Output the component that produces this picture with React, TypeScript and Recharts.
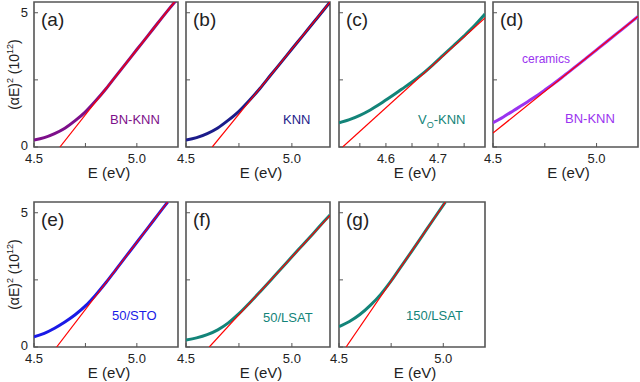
import React from "react";
import { LineChart, Line, XAxis, YAxis, ReferenceArea, Label } from "recharts";

const FONT = "Arial, 'Liberation Sans', Helvetica, sans-serif";
const Y_MAX = 5.4;
const Y_TICKS = [0, 2.5, 5];

// (a) BN-KNN
const energyA = [4.5, 4.55, 4.6, 4.65, 4.7, 4.75, 4.8, 4.85, 4.9, 4.95, 5.0, 5.05, 5.1, 5.15, 5.19];
const absA = [0.26, 0.35, 0.5, 0.7, 0.98, 1.31, 1.72, 2.17, 2.66, 3.14, 3.63, 4.11, 4.6, 5.08, 5.45];
const fitEA = [4.626, 5.183];
const fitYA = [0, 5.4];

// (b) KNN
const energyB = [4.5, 4.55, 4.6, 4.65, 4.7, 4.75, 4.8, 4.85, 4.9, 4.95, 5.0, 5.05, 5.1, 5.15, 5.18];
const absB = [0.26, 0.35, 0.5, 0.71, 1.0, 1.33, 1.74, 2.19, 2.68, 3.16, 3.65, 4.13, 4.62, 5.1, 5.4];
const fitEB = [4.624, 5.18];
const fitYB = [0, 5.4];

// (c) VO-KNN
const energyC = [4.51, 4.53, 4.55, 4.57, 4.59, 4.61, 4.63, 4.65, 4.67, 4.69, 4.71, 4.73, 4.75, 4.77, 4.79];
const absC = [0.9, 1.02, 1.18, 1.38, 1.62, 1.88, 2.15, 2.42, 2.72, 3.06, 3.42, 3.78, 4.14, 4.52, 4.95];
const fitEC = [4.517, 4.79];
const fitYC = [0, 4.81];

// (d) BN-KNN ceramics
const energyD = [4.5, 4.55, 4.6, 4.65, 4.7, 4.75, 4.8, 4.85, 4.9, 4.95, 5.0, 5.05, 5.1, 5.15, 5.2];
const absD = [0.9, 1.12, 1.36, 1.6, 1.85, 2.12, 2.4, 2.7, 3.0, 3.31, 3.62, 3.93, 4.24, 4.55, 4.86];
const fitED = [4.5, 5.2];
const fitYD = [0.52, 4.86];

// (e) 50/STO
const energyE = [4.5, 4.55, 4.6, 4.65, 4.7, 4.75, 4.8, 4.85, 4.9, 4.95, 5.0, 5.05, 5.1, 5.15];
const absE = [0.38, 0.51, 0.7, 0.93, 1.2, 1.53, 1.94, 2.4, 2.9, 3.4, 3.9, 4.4, 4.9, 5.4];
const fitEE = [4.61, 5.15];
const fitYE = [0, 5.4];

// (f) 50/LSAT
const energyF = [4.5, 4.55, 4.6, 4.65, 4.7, 4.75, 4.8, 4.85, 4.9, 4.95, 5.0, 5.05, 5.1, 5.15, 5.18];
const absF = [0.26, 0.34, 0.46, 0.64, 0.9, 1.24, 1.64, 2.06, 2.49, 2.92, 3.36, 3.79, 4.22, 4.66, 4.92];
const fitEF = [4.61, 5.18];
const fitYF = [0, 4.9];

// (g) 150/LSAT
const energyG = [4.5, 4.55, 4.6, 4.65, 4.7, 4.75, 4.8, 4.85, 4.9, 4.95, 5.01];
const absG = [0.76, 0.95, 1.21, 1.55, 1.96, 2.46, 3.02, 3.58, 4.15, 4.72, 5.4];
const fitEG = [4.534, 5.01];
const fitYG = [0, 5.4];

const ticksWide = [4.5, 4.75, 5.0];
const labelsWide = [4.5, 5.0];
const ticksC = [4.55, 4.6, 4.65, 4.7, 4.75];
const labelsC = [4.6, 4.7];

const zip = (xs: number[], ys: number[]) => xs.map((x, i) => ({ x, y: ys[i] }));

const PURPLE = "#7d0f8a";
const NAVY = "#1c1c8a";
const TEAL = "#138479";
const VIOLET = "#9a33f0";
const BLUE = "#1a1ae6";

type Note = { text: React.ReactNode; x: number; y: number; size?: number };

const panels = [
  { tag: "(a)", left: 34, right: 178, top: 2, xDomain: [4.5, 5.2], ticks: ticksWide, labels: labelsWide, yLabels: true,
    curve: zip(energyA, absA), fit: zip(fitEA, fitYA), color: PURPLE, notes: [{ text: "BN-KNN", x: 110, y: 124 }] as Note[] },
  { tag: "(b)", left: 186, right: 330, top: 2, xDomain: [4.5, 5.18], ticks: ticksWide, labels: labelsWide, yLabels: false,
    curve: zip(energyB, absB), fit: zip(fitEB, fitYB), color: NAVY, notes: [{ text: "KNN", x: 283, y: 124 }] as Note[] },
  { tag: "(c)", left: 339, right: 485, top: 2, xDomain: [4.51, 4.79], ticks: ticksC, labels: labelsC, yLabels: false,
    curve: zip(energyC, absC), fit: zip(fitEC, fitYC), color: TEAL,
    notes: [{ text: <>V<tspan dy={4} fontSize={9}>O</tspan><tspan dy={-4}>-KNN</tspan></>, x: 418, y: 124 }] as Note[] },
  { tag: "(d)", left: 493, right: 638, top: 2, xDomain: [4.5, 5.2], ticks: ticksWide, labels: labelsWide, yLabels: false,
    curve: zip(energyD, absD), fit: zip(fitED, fitYD), color: VIOLET,
    notes: [{ text: "ceramics", x: 522, y: 63, size: 12 }, { text: "BN-KNN", x: 565, y: 123 }] as Note[] },
  { tag: "(e)", left: 34, right: 178, top: 202, xDomain: [4.5, 5.2], ticks: ticksWide, labels: labelsWide, yLabels: true,
    curve: zip(energyE, absE), fit: zip(fitEE, fitYE), color: BLUE, notes: [{ text: "50/STO", x: 112, y: 320 }] as Note[] },
  { tag: "(f)", left: 186, right: 330, top: 202, xDomain: [4.5, 5.18], ticks: ticksWide, labels: labelsWide, yLabels: false,
    curve: zip(energyF, absF), fit: zip(fitEF, fitYF), color: TEAL, notes: [{ text: "50/LSAT", x: 263, y: 322 }] as Note[] },
  { tag: "(g)", left: 339, right: 485, top: 202, xDomain: [4.5, 5.2], ticks: ticksWide, labels: labelsWide, yLabels: false,
    curve: zip(energyG, absG), fit: zip(fitEG, fitYG), color: TEAL, notes: [{ text: "150/LSAT", x: 406, y: 320 }] as Note[] },
];

const Y_W = 34;
const X_H = 36;
const M_TOP = 2;
const M_RIGHT = 2;
const PLOT_H = 145;
const AXIS = "#555";

const hasValue = (list: number[], v: number) => list.some((l) => Math.abs(l - v) < 1e-6);

const renderXTick = (labels: number[]) => (props: any) => {
  const { x, y, payload } = props;
  const v = payload.value as number;
  return (
    <g>
      <line x1={x} x2={x} y1={y} y2={y - 4} stroke={AXIS} strokeWidth={1} />
      {hasValue(labels, v) && (
        <text x={x} y={y + 16} textAnchor="middle" fontSize={13} fontFamily={FONT} fill="#222">
          {v.toFixed(1)}
        </text>
      )}
    </g>
  );
};

const renderYTick = (show: boolean) => (props: any) => {
  const { x, y, payload } = props;
  const v = payload.value as number;
  return (
    <g>
      <line x1={x} x2={x + 4} y1={y} y2={y} stroke={AXIS} strokeWidth={1} />
      {show && v !== 2.5 && (
        <text x={x - 6} y={y + (v === 0 ? 3 : 4.5)} textAnchor="end" fontSize={13} fontFamily={FONT} fill="#222">
          {v}
        </text>
      )}
    </g>
  );
};

const Panel = ({ p }: { p: (typeof panels)[number] }) => {
  const plotW = p.right - p.left;
  const ox = p.left - Y_W;
  const oy = p.top - M_TOP;
  return (
    <div style={{ position: "absolute", left: ox, top: oy }}>
      <LineChart
        width={Y_W + plotW + M_RIGHT}
        height={M_TOP + PLOT_H + X_H}
        margin={{ top: M_TOP, right: M_RIGHT, bottom: 0, left: 0 }}
      >
        <XAxis
          type="number"
          dataKey="x"
          domain={p.xDomain}
          ticks={p.ticks}
          interval={0}
          allowDataOverflow
          axisLine={false}
          tickLine={false}
          tickSize={0}
          tickMargin={0}
          height={X_H}
          tick={renderXTick(p.labels)}
        >
          <Label
            content={(lp: any) => {
              const vb = lp.viewBox;
              return (
                <text x={vb.x + vb.width / 2 + 3} y={vb.y + 31} textAnchor="middle" fontSize={15} fontFamily={FONT} fill="#222">
                  E (eV)
                </text>
              );
            }}
          />
        </XAxis>
        <YAxis
          type="number"
          domain={[0, Y_MAX]}
          ticks={Y_TICKS}
          interval={0}
          allowDataOverflow
          axisLine={false}
          tickLine={false}
          tickSize={0}
          tickMargin={0}
          width={Y_W}
          tick={renderYTick(p.yLabels)}
        >
          {p.yLabels && (
            <Label
              content={(lp: any) => {
                const vb = lp.viewBox;
                const cy = vb.y + vb.height / 2;
                return (
                  <text transform={`translate(19, ${cy}) rotate(-90)`} textAnchor="middle" fontSize={14} fontFamily={FONT} fill="#222">
                    (αE)<tspan dy={-6} fontSize={9}>2</tspan>
                    <tspan dy={6}> (10</tspan>
                    <tspan dy={-6} fontSize={9}>12</tspan>
                    <tspan dy={6}>)</tspan>
                  </text>
                );
              }}
            />
          )}
        </YAxis>
        <Line
          data={p.curve}
          dataKey="y"
          type="monotone"
          stroke={p.color}
          strokeWidth={3}
          dot={false}
          activeDot={false}
          isAnimationActive={false}
        />
        <Line
          data={p.fit}
          dataKey="y"
          type="linear"
          stroke="#ff0000"
          strokeWidth={1.2}
          dot={false}
          activeDot={false}
          isAnimationActive={false}
        />
        <ReferenceArea
          x1={p.xDomain[0]}
          x2={p.xDomain[1]}
          y1={0}
          y2={Y_MAX}
          fill="none"
          fillOpacity={0}
          stroke={AXIS}
          strokeWidth={1.6}
          ifOverflow="visible"
        />
        <text x={p.left + 7 - ox} y={p.top + 24 - oy} fontSize={19} fontFamily={FONT} fill="#222">
          {p.tag}
        </text>
        {p.notes.map((n, i) => (
          <text key={i} x={n.x - ox} y={n.y - oy} fontSize={n.size ?? 13} fontFamily={FONT} fill={p.color}>
            {n.text}
          </text>
        ))}
      </LineChart>
    </div>
  );
}

export default function App() {
  return (
    <div style={{ position: "absolute", left: 0, top: 0, width: 640, height: 382, background: "#fff", overflow: "hidden" }}>
      {panels.map((p) => (
        <Panel key={p.tag} p={p} />
      ))}
    </div>
  );
}
